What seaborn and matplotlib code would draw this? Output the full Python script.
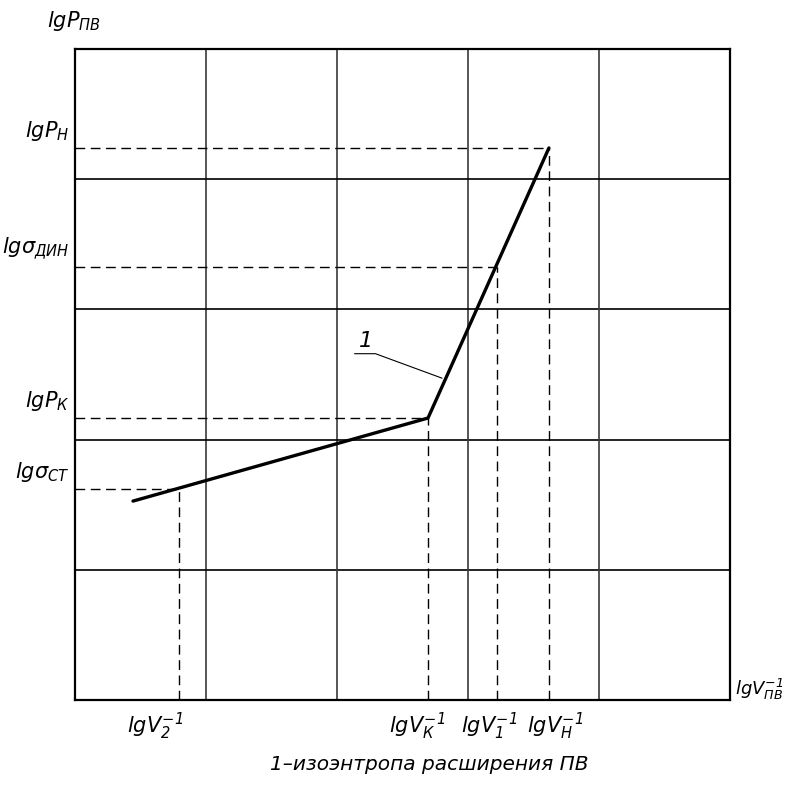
import matplotlib
matplotlib.use('Agg')
import matplotlib.pyplot as plt
from matplotlib import font_manager
import seaborn as sns
import pandas as pd

# isentrope of expansion (curve 1), grid units
curve_x = [0.443, 2.695, 3.618]
curve_y = [1.528, 2.166, 4.240]

# marked values on the axes
x_mark_labels = [r'$lgV_2^{-1}$', r'$lgV_К^{-1}$', r'$lgV_1^{-1}$', r'$lgV_Н^{-1}$']
x_mark_pos = [0.794, 2.695, 3.221, 3.618]
x_mark_top = [1.621, 2.166, 3.326, 4.240]

y_mark_labels = [r'$lg\sigma_{СТ}$', r'$lgP_К$', r'$lg\sigma_{ДИН}$', r'$lgP_Н$']
y_mark_pos = [1.621, 2.166, 3.326, 4.240]
y_mark_right = [0.794, 2.695, 3.221, 3.618]

grid_ticks = [1, 2, 3, 4]

sns.set_style('white')

# narrow drawing-style font if one is available
names = {f.name for f in font_manager.fontManager.ttflist}
font = 'DejaVu Sans'
for cand in ['Liberation Sans Narrow', 'DejaVu Sans Condensed']:
    if cand in names:
        font = cand
        break
plt.rcParams['font.family'] = [font, 'DejaVu Sans']
plt.rcParams['text.color'] = 'black'
plt.rcParams['mathtext.fontset'] = 'custom'
plt.rcParams['mathtext.it'] = font + ':italic'
plt.rcParams['mathtext.rm'] = font + ':italic'
plt.rcParams['mathtext.default'] = 'it'

fig = plt.figure(figsize=(7.9, 7.87), dpi=100)
ax = fig.add_axes([0.0949, 0.1105, 0.8291, 0.8272])
ax.set_xlim(0, 5)
ax.set_ylim(0, 5)

for t in grid_ticks:
    ax.axvline(t, color='#3a3a3a', lw=1.2, zorder=1)
    ax.axhline(t, color='black', lw=1.2, zorder=1)

for sp in ax.spines.values():
    sp.set_color('black')
    sp.set_linewidth(1.6)

# drop lines
for xp, yt in zip(x_mark_pos, x_mark_top):
    ax.plot([xp, xp], [0, yt], color='black', lw=1.0, ls=(0, (7, 4)), zorder=2)
for yp, xr in zip(y_mark_pos, y_mark_right):
    ax.plot([0, xr], [yp, yp], color='black', lw=1.0, ls=(0, (7, 4)), zorder=2)

df = pd.DataFrame({'x': curve_x, 'y': curve_y})
sns.lineplot(data=df, x='x', y='y', ax=ax, color='black', lw=2.4, sort=False, zorder=3)

# leader for "1"
ax.plot([2.134, 2.294, 2.802], [2.66, 2.66, 2.472], color='black', lw=0.8, zorder=3)
ax.text(2.22, 2.68, '1', fontsize=16, style='italic', ha='center', va='bottom')

ax.set_xticks([])
ax.set_yticks([])
ax.set_xlabel('')
ax.set_ylabel('')

fs = 15
x_label_left = [0.40, 2.40, 2.95, 3.45]
for lab, xl in zip(x_mark_labels, x_label_left):
    ax.text(xl, -0.08, lab, fontsize=fs, ha='left', va='top')
for lab, yp in zip(y_mark_labels, y_mark_pos):
    ax.text(-0.04, yp + 0.04, lab, fontsize=fs, ha='right', va='bottom')

ax.text(5.035, 0.08, r'$lgV_{ПВ}^{-1}$', fontsize=13, ha='left', va='center')
ax.text(-0.21, 5.12, r'$lgP_{ПВ}$', fontsize=fs, ha='left', va='bottom')

fig.text(0.543, 0.028, '1–изоэнтропа расширения ПВ', fontsize=14.5,
         style='italic', ha='center', va='center')

fig.savefig('out.png', dpi=100)
